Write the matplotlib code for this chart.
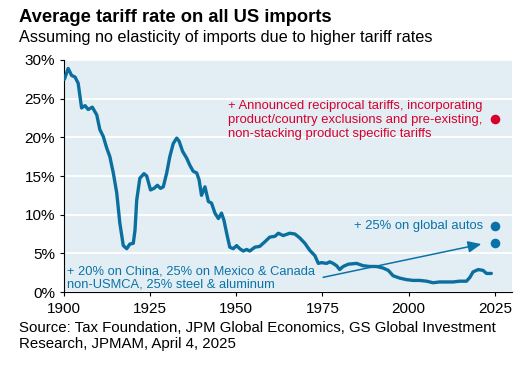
import matplotlib.pyplot as plt
from matplotlib.ticker import FuncFormatter

plt.rcParams['font.family'] = ['Liberation Sans', 'DejaVu Sans']

# tariff rate history (%)
years = [1900.1, 1901.2, 1902.2, 1903.2, 1904.1, 1905.1, 1906.1, 1907.0, 1908.2, 1909.5,
         1910.4, 1911.4, 1912.4, 1913.3, 1914.3, 1915.3, 1916.2, 1917.2, 1918.2, 1919.1,
         1920.1, 1920.6, 1921.1, 1922.0, 1923.2, 1924.0, 1925.1, 1926.1, 1927.1, 1928.0,
         1928.8, 1929.8, 1930.7, 1931.7, 1932.7, 1933.4, 1934.4, 1935.6, 1936.5, 1937.5,
         1938.5, 1939.2, 1939.9, 1940.9, 1941.9, 1942.8, 1943.8, 1944.8, 1945.7, 1946.4,
         1947.2, 1948.1, 1949.1, 1950.1, 1951.0, 1952.0, 1953.0, 1953.9, 1955.4, 1956.8,
         1958.3, 1959.7, 1961.2, 1962.2, 1963.6, 1965.5, 1967.0, 1968.4, 1969.9, 1971.3,
         1972.8, 1973.8, 1974.7, 1976.2, 1977.1, 1978.1, 1979.1, 1980.0, 1981.0, 1982.5,
         1984.9, 1986.8, 1988.7, 1990.7, 1992.6, 1994.1, 1995.5, 1997.4, 1999.4, 2001.3,
         2003.2, 2005.2, 2007.1, 2009.0, 2011.0, 2012.9, 2014.8, 2016.8, 2017.8, 2018.7,
         2020.2, 2021.6, 2022.6, 2024.0]
rates = [27.5, 28.9, 28.0, 27.8, 27.0, 23.8, 24.1, 23.6, 23.9, 22.9,
         21.0, 20.1, 18.6, 17.5, 15.4, 12.8, 8.9, 6.0, 5.6, 6.2,
         6.3, 8.0, 11.9, 14.7, 15.3, 15.0, 13.2, 13.4, 13.8, 13.4,
         13.6, 15.4, 17.5, 19.2, 19.9, 19.5, 18.2, 17.3, 16.4, 15.6,
         15.4, 14.5, 12.5, 13.6, 11.7, 11.5, 10.2, 9.5, 10.2, 9.3,
         7.6, 5.8, 5.6, 6.0, 5.6, 5.3, 5.5, 5.3, 5.8, 5.9,
         6.5, 7.1, 7.2, 7.6, 7.3, 7.6, 7.5, 7.0, 6.3, 5.4,
         4.7, 3.7, 3.8, 3.7, 3.9, 3.7, 3.4, 2.9, 3.3, 3.6,
         3.7, 3.4, 3.3, 3.3, 3.1, 2.8, 2.1, 1.8, 1.6, 1.5,
         1.5, 1.4, 1.2, 1.3, 1.3, 1.3, 1.4, 1.4, 1.9, 2.6,
         2.9, 2.8, 2.4, 2.4]

# scenario points for 2025
scen_year = 2025
scen_blue = [6.3, 8.5]
scen_red = 22.4

# arrow from text to first scenario point
arrow_start = (1975.2, 1.9)
arrow_end = (2021.1, 6.2)

blue = '#0A6F9F'
dot_blue = '#0B72A8'
red = '#D7002E'

fig = plt.figure(figsize=(5.3, 3.71), dpi=100)
ax = fig.add_axes([0.1208, 0.2129, 0.966 - 0.1208, 0.8383 - 0.2129])
ax.set_facecolor('#E2EEF3')

ax.plot(years, rates, color=blue, lw=2.4, solid_capstyle='round', zorder=3)
ax.scatter([scen_year] * 2, scen_blue, s=48, color=dot_blue, zorder=4, linewidths=0)
ax.scatter([scen_year], [scen_red], s=48, color=red, zorder=4, linewidths=0)

ax.annotate('', xy=arrow_end, xytext=arrow_start,
            arrowprops=dict(arrowstyle='-|>,head_length=0.8,head_width=0.35',
                            color=dot_blue, lw=1.1, shrinkA=0, shrinkB=0), zorder=4)

ax.text(1947.6, 22.3, '+ Announced reciprocal tariffs, incorporating\n'
        'product/country exclusions and pre-existing,\n'
        'non-stacking product specific tariffs',
        color=red, fontsize=9.4, va='center', ha='left', linespacing=1.22)
ax.text(2021.5, 8.6, '+ 25% on global autos', color=dot_blue, fontsize=9.4,
        va='center', ha='right')
ax.text(1901.0, 1.8, '+ 20% on China, 25% on Mexico & Canada\n'
        'non-USMCA, 25% steel & aluminum',
        color=dot_blue, fontsize=9.3, va='center', ha='left', linespacing=1.2)

ax.set_xlim(1900, 2030)
ax.set_ylim(0, 30)
ax.set_xticks(range(1900, 2026, 25))
ax.set_yticks(range(0, 31, 5))
ax.yaxis.set_major_formatter(FuncFormatter(lambda v, p: f'{v:.0f}%'))
ax.grid(axis='y', color='white', lw=1.3)
ax.set_axisbelow(True)
for s in ['top', 'right']:
    ax.spines[s].set_visible(False)
ax.spines['left'].set_color('black')
ax.spines['bottom'].set_color('black')
ax.tick_params(axis='both', labelsize=11, length=3, width=0.8, color='black')
ax.tick_params(axis='x', pad=4)

fig.text(0.036, 0.954, 'Average tariff rate on all US imports', fontsize=13.2,
         fontweight='bold', va='center', ha='left')
fig.text(0.036, 0.898, 'Assuming no elasticity of imports due to higher tariff rates',
         fontsize=11.7, va='center', ha='left')
fig.text(0.036, 0.094, 'Source: Tax Foundation, JPM Global Economics, GS Global Investment\n'
         'Research, JPMAM, April 4, 2025', fontsize=10.8, va='center', ha='left',
         linespacing=1.15)

fig.savefig('out.png', dpi=100)
